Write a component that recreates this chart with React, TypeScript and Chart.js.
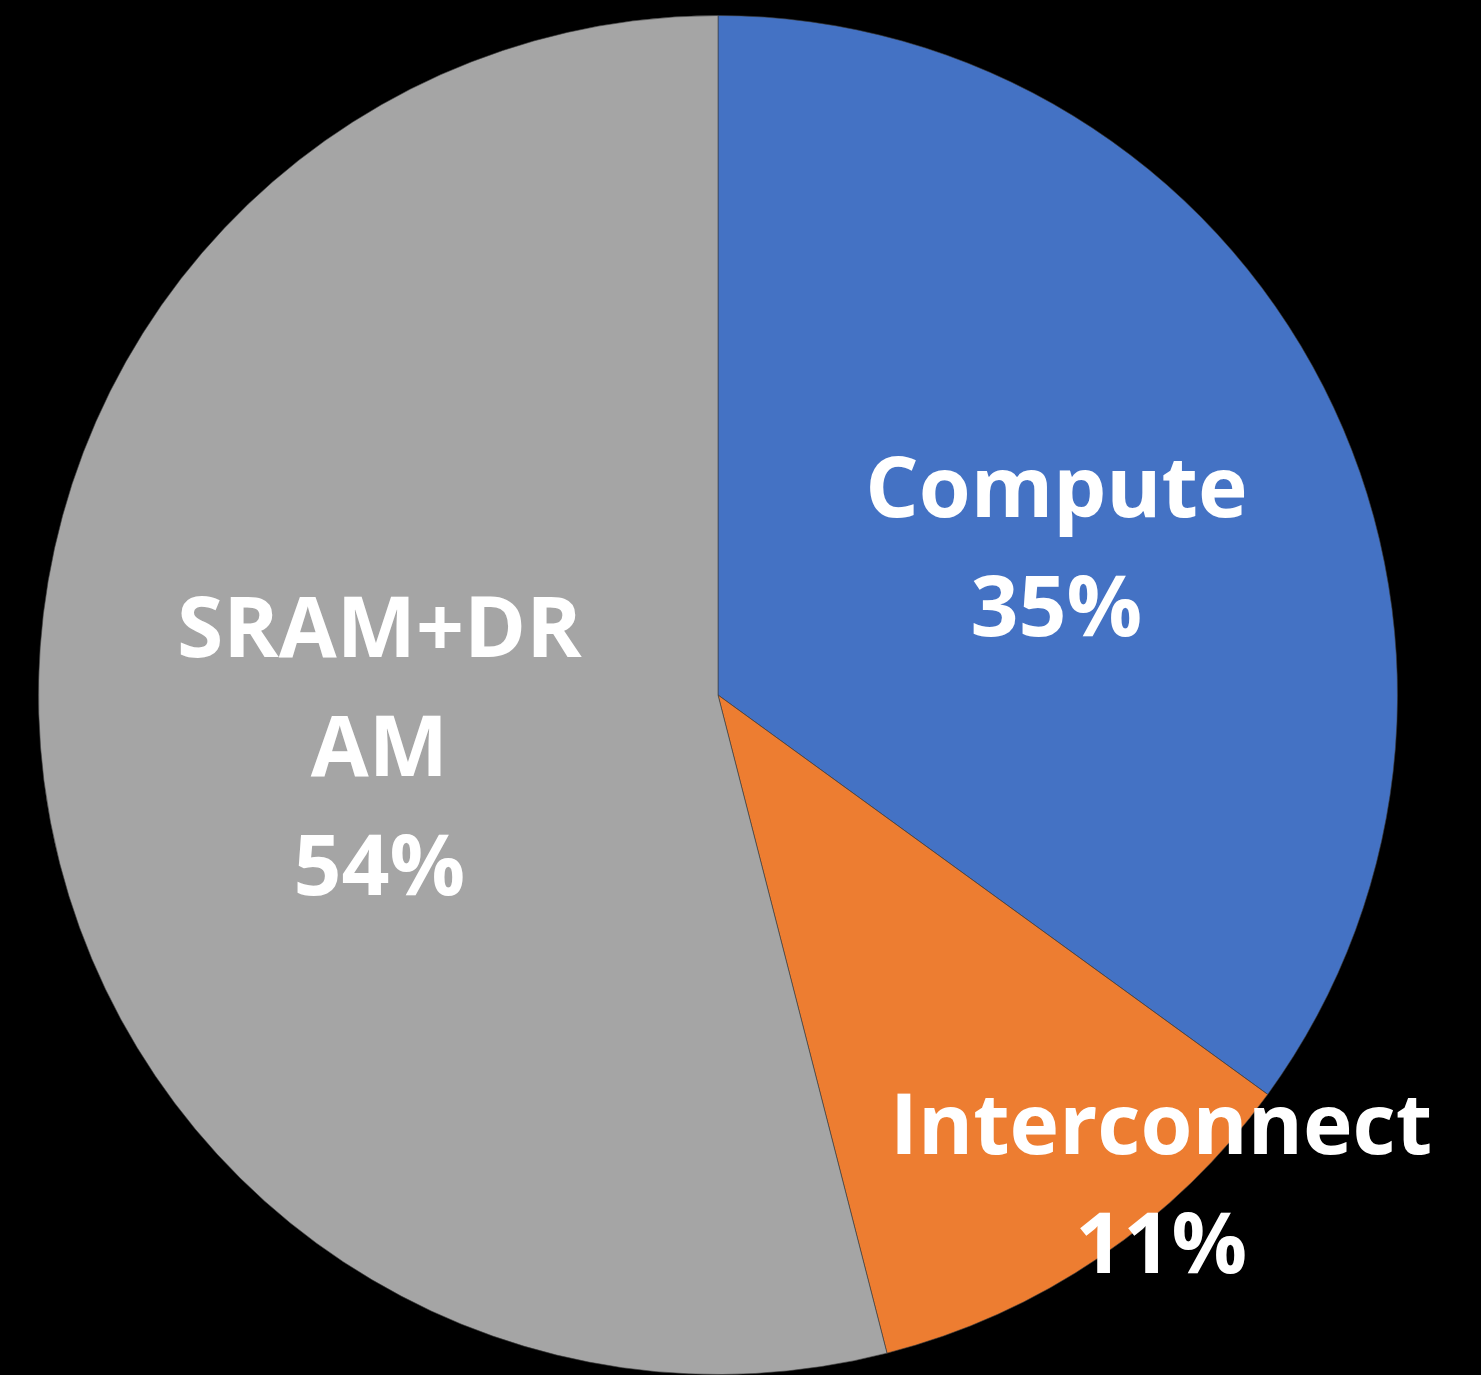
import React, { useEffect, useRef } from "react";
import { Chart, registerables } from "chart.js";

Chart.register(...registerables);

const categories = ["Compute", "Interconnect", "SRAM+DRAM"];
const shares = [35, 11, 54];
const labelLines = [["Compute"], ["Interconnect"], ["SRAM+DR", "AM"]];
const sliceColors = ["#4472C4", "#ED7D31", "#A5A5A5"];

// label placement: fraction of radius, fraction of angular span within slice
const labelRadiusFrac = [0.544, 0.971, 0.504];
const labelAngleFrac = [0.526, 0.298, 0.493];

const labelPlugin = {
  id: "sliceLabels",
  afterDatasetsDraw(chart: any) {
    const ctx = chart.ctx;
    const meta = chart.getDatasetMeta(0);
    const total = shares.reduce((a, b) => a + b, 0);
    ctx.save();
    ctx.fillStyle = "#FFFFFF";
    ctx.font = "bold 84px 'Open Sans'";
    ctx.textAlign = "center";
    ctx.textBaseline = "alphabetic";
    const lh = 119;
    const capH = 60;
    meta.data.forEach((arc: any, i: number) => {
      const p = arc.getProps(["x", "y", "startAngle", "endAngle", "outerRadius"], true);
      const ang = p.startAngle + (p.endAngle - p.startAngle) * labelAngleFrac[i];
      const r = p.outerRadius * labelRadiusFrac[i];
      const cx = p.x + Math.cos(ang) * r;
      const cy = p.y + Math.sin(ang) * r;
      const lines = [...labelLines[i], Math.round((shares[i] / total) * 100) + "%"];
      const first = cy - ((lines.length - 1) * lh) / 2 + capH / 2;
      lines.forEach((t, k) => ctx.fillText(t, cx, first + k * lh));
    });
    ctx.restore();
  },
};

export default function App() {
  const ref = useRef<HTMLCanvasElement>(null);
  useEffect(() => {
    document.body.style.margin = "0";
    document.body.style.background = "#000";
    const chart = new Chart(ref.current!, {
      type: "pie",
      data: {
        labels: categories,
        datasets: [
          {
            data: shares,
            backgroundColor: sliceColors,
            borderColor: "rgba(60,60,60,0.6)",
            borderWidth: 1,
          },
        ],
      },
      options: {
        responsive: false,
        animation: false,
        layout: { padding: { top: 15, bottom: 0, left: 0, right: 45 } },
        plugins: { legend: { display: false }, tooltip: { enabled: false } },
      },
      plugins: [labelPlugin],
    });
    return () => chart.destroy();
  }, []);
  return (
    <div style={{ width: 1481, height: 1375, background: "#000" }}>
      <canvas ref={ref} width={1481} height={1375} style={{ display: "block" }} />
    </div>
  );
}
